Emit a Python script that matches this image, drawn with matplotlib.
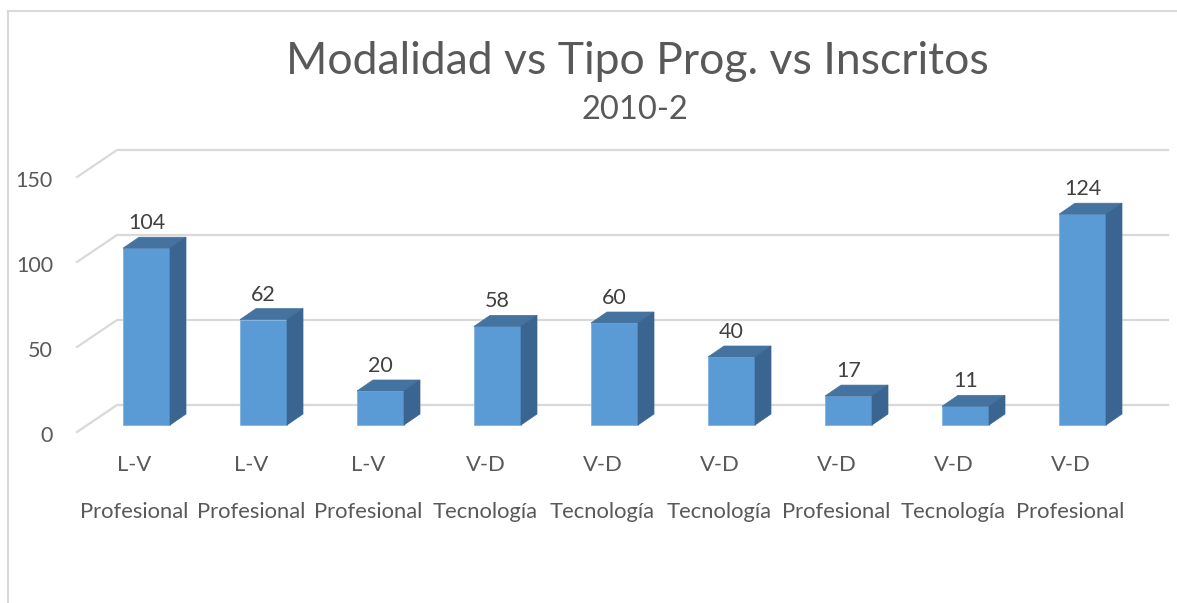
import matplotlib
matplotlib.use("Agg")
import matplotlib.pyplot as plt
from matplotlib.patches import Polygon
from matplotlib.lines import Line2D

# ============================================================
# DADOS
# ============================================================
modalidad = ["L-V", "L-V", "L-V", "V-D", "V-D", "V-D", "V-D", "V-D", "V-D"]
tipo_prog = ["Profesional", "Profesional", "Profesional", "Tecnología", "Tecnología",
             "Tecnología", "Profesional", "Tecnología", "Profesional"]
inscritos = [104, 62, 20, 58, 60, 40, 17, 11, 124]
y_ticks   = [0, 50, 100, 150]

titulo    = "Modalidad vs Tipo Prog. vs Inscritos"
subtitulo = "2010-2"

# ============================================================
# ESTILO
# ============================================================
plt.rcParams["font.family"] = ["Lato", "DejaVu Sans"]
COR_TEXTO = "#595959"
COR_GRADE = "#d9d9d9"
COR_FRENTE = "#5b9bd5"
COR_TOPO   = "#44739f"
COR_LADO   = "#3a6590"

W, H = 1177, 603
fig = plt.figure(figsize=(W / 100, H / 100), dpi=100)

# eixo em unidades de categoria (x) e de valor (y)
px_x = 117.0           # px por categoria
px_y = 1.7             # px por unidade
x0_px, y0_px = 77, 432  # canto frontal (x=-0.5, y=0)
ax_l_px, ax_r_px = 77, 1168
ax_t_px, ax_b_px = 140, 445
x_min = -0.5
x_max = x_min + (ax_r_px - ax_l_px) / px_x
y_min = -(ax_b_px - y0_px) / px_y
y_max = (y0_px - ax_t_px) / px_y

ax = fig.add_axes([ax_l_px / W, 1 - ax_b_px / H,
                   (ax_r_px - ax_l_px) / W, (ax_b_px - ax_t_px) / H])
ax.set_xlim(x_min, x_max)
ax.set_ylim(y_min, y_max)
ax.axis("off")

# profundidade da parede do fundo
dxb = 40 / px_x
dyb = 27 / px_y

for v in y_ticks:
    ax.plot([x_min, x_min + dxb, x_max], [v, v + dyb, v + dyb],
            color=COR_GRADE, lw=1.6, clip_on=False, zorder=1)
    ax.text(x_min - 24 / px_x, v - 2.4, str(v), ha="right", va="center",
            fontsize=15.5, color=COR_TEXTO)

# barras 3D
off_x = -12.5 / px_x
larg  = 47 / px_x
base  = 7 / px_y
dx    = 16 / px_x
dy    = 11 / px_y

for i, h in enumerate(inscritos):
    xl = i + off_x
    xr = xl + larg
    ax.bar(xl, h, width=larg, bottom=base, align="edge",
           color=COR_FRENTE, edgecolor="#7fb2e0", lw=0.6, zorder=3)
    ax.add_patch(Polygon([(xl, base + h), (xr, base + h),
                          (xr + dx, base + h + dy), (xl + dx, base + h + dy)],
                         closed=True, facecolor=COR_TOPO, edgecolor=COR_TOPO,
                         lw=0.5, zorder=3))
    ax.add_patch(Polygon([(xr, base), (xr + dx, base + dy),
                          (xr + dx, base + h + dy), (xr, base + h)],
                         closed=True, facecolor=COR_LADO, edgecolor=COR_LADO,
                         lw=0.5, zorder=3))
    ax.text(xl + larg / 2, base + h + dy + 8.2, str(h), ha="center", va="center",
            fontsize=15.5, color="#404040", zorder=4)
    ax.text(i - 0.01, (y0_px - 465) / px_y, modalidad[i], ha="center", va="center",
            fontsize=15.8, color=COR_TEXTO, clip_on=False)
    ax.text(i - 0.01, (y0_px - 512) / px_y, tipo_prog[i], ha="center", va="center",
            fontsize=15.8, color=COR_TEXTO, clip_on=False)

# titulo
fig.text(637 / W, 1 - 62 / H, titulo, ha="center", va="center",
         fontsize=32, color=COR_TEXTO)
fig.text(635 / W, 1 - 110 / H, subtitulo, ha="center", va="center",
         fontsize=23.5, color=COR_TEXTO)

# moldura do grafico
fig.add_artist(Line2D([8 / W, 8 / W], [0, 1 - 11 / H], color=COR_GRADE, lw=1.5))
fig.add_artist(Line2D([8 / W, 1], [1 - 11 / H, 1 - 11 / H], color=COR_GRADE, lw=1.5))

fig.savefig("out.png", dpi=100, facecolor="white")
